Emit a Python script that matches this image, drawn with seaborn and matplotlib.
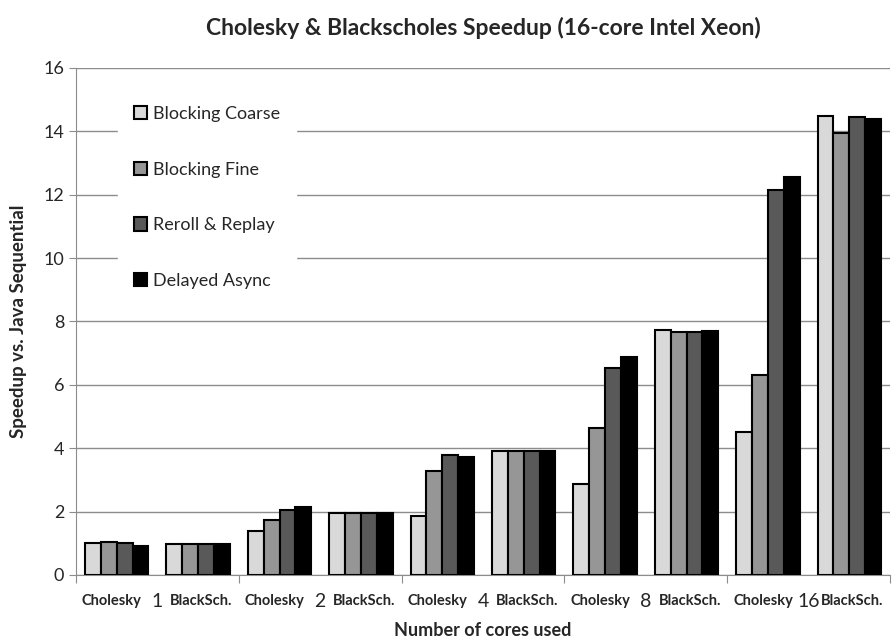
import pandas as pd
import matplotlib.pyplot as plt
import matplotlib.transforms as mtransforms
import seaborn as sns

# data
cores = ['1', '2', '4', '8', '16']
benchmarks = ['Cholesky', 'BlackSch.']
series = ['Blocking Coarse', 'Blocking Fine', 'Reroll & Replay', 'Delayed Async']
colors = ['#d9d9d9', '#969696', '#595959', '#000000']

# one list per series, order: Cholesky 1, BlackSch 1, Cholesky 2, ...
blocking_coarse = [1.02, 0.99, 1.38, 1.97, 1.87, 3.90, 2.87, 7.74, 4.51, 14.49]
blocking_fine = [1.04, 0.99, 1.73, 1.97, 3.29, 3.90, 4.64, 7.68, 6.32, 13.93]
reroll_replay = [1.01, 0.99, 2.05, 1.97, 3.79, 3.90, 6.52, 7.66, 12.15, 14.45]
delayed_async = [0.91, 0.99, 2.15, 1.97, 3.72, 3.90, 6.89, 7.71, 12.57, 14.38]

slots = [f'{b} {c}' for c in cores for b in benchmarks]
rows = []
for name, vals in zip(series, [blocking_coarse, blocking_fine, reroll_replay, delayed_async]):
    for s, v in zip(slots, vals):
        rows.append({'slot': s, 'speedup': v, 'series': name})
df = pd.DataFrame(rows)

sns.set_style('white')
plt.rcParams['font.family'] = ['Lato', 'DejaVu Sans']

fig = plt.figure(figsize=(8.92, 6.4), dpi=100)
ax = fig.add_axes([0.0852, 0.1016, 0.9126, 0.7924])

sns.barplot(data=df, x='slot', y='speedup', hue='series', order=slots,
            hue_order=series, palette=colors, edgecolor='black',
            linewidth=1.5, width=0.78, ax=ax, zorder=3)

ax.set_ylim(0, 16)
ax.set_xlim(-0.5, 9.5)
ax.set_yticks(range(0, 17, 2))
ax.yaxis.grid(True, color='#8c8c8c', linewidth=1, zorder=0)
ax.set_axisbelow(True)
ax.tick_params(axis='y', labelsize=13, length=5, color='#8c8c8c', left=True)

# group separators as x ticks
ax.set_xticks([-0.5, 1.5, 3.5, 5.5, 7.5, 9.5])
ax.set_xticklabels([])
ax.tick_params(axis='x', length=6, color='#8c8c8c', bottom=True, direction='out')

for sp in ['top', 'right']:
    ax.spines[sp].set_visible(False)
ax.spines['left'].set_color('#8c8c8c')
ax.spines['bottom'].set_color('#8c8c8c')

# two-level category labels
trans = mtransforms.blended_transform_factory(ax.transData, ax.transAxes)
for i, c in enumerate(cores):
    ax.text(2 * i - 0.06, -0.052, 'Cholesky', transform=trans, ha='center', va='center',
            fontsize=10.5, fontweight='bold')
    ax.text(2 * i + 1.04, -0.052, 'BlackSch.', transform=trans, ha='center', va='center',
            fontsize=10.5, fontweight='bold')
    ax.text(2 * i + 0.5, -0.052, c, transform=trans, ha='center', va='center',
            fontsize=14)

ax.set_xlabel('Number of cores used', fontsize=13, fontweight='bold', labelpad=24)
ax.set_ylabel('Speedup vs. Java Sequential', fontsize=13.5, fontweight='bold', labelpad=12)
ax.set_title('Cholesky & Blackscholes Speedup (16-core Intel Xeon)', fontsize=16.5,
             fontweight='bold', pad=24)

leg = ax.legend(loc='upper left', bbox_to_anchor=(0.04, 0.975), frameon=True,
                fancybox=False, edgecolor='white', framealpha=1, fontsize=13,
                handlelength=0.75, handleheight=0.75, handletextpad=0.3,
                labelspacing=2.2, borderpad=0.9)
leg.set_zorder(5)

fig.savefig('out.png', dpi=100)
